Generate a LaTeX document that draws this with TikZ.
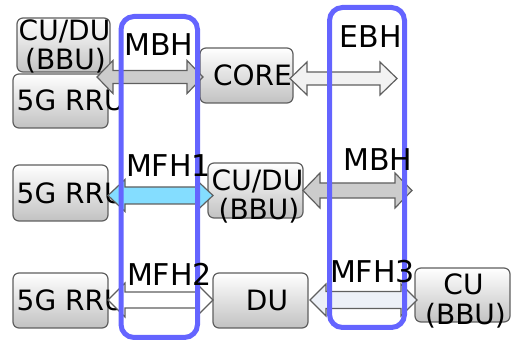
\documentclass[tikz,border=0pt]{standalone}
\usepackage{fontspec}
\setmainfont{DejaVu Sans}

\definecolor{edgegray}{HTML}{5F5F5F}
\definecolor{arrowgray}{HTML}{CCCCCC}
\definecolor{arrowlight}{HTML}{F2F2F2}
\definecolor{arrowcyan}{HTML}{84DDFF}
\definecolor{arrowpale}{HTML}{ECF0F7}
\definecolor{framblue}{RGB}{100,100,255}

% double-headed block arrow: style, left tip x, right tip x, centre y,
% half shaft width, half head width, head length
\newcommand\dblarrow[7]{%
  \draw[#1] (#2,#4) -- (#2+#7,#4-#6) -- (#2+#7,#4-#5) -- (#3-#7,#4-#5)
    -- (#3-#7,#4-#6) -- (#3,#4) -- (#3-#7,#4+#6) -- (#3-#7,#4+#5)
    -- (#2+#7,#4+#5) -- (#2+#7,#4+#6) -- cycle;}

\begin{document}
\begin{tikzpicture}[x=1pt,y=-1pt,
  unitbox/.style={draw=edgegray, line width=1.2pt, rounded corners=6pt,
    top color=white, bottom color=black!24, inner sep=0pt},
  unittext/.style={inner sep=0pt, text height=20.4pt, text depth=0pt,
    font=\fontsize{28pt}{30pt}\selectfont},
  linklabel/.style={inner sep=0pt, text height=21.9pt, text depth=0pt,
    font=\fontsize{30pt}{32pt}\selectfont},
  link/.style={draw=edgegray, line width=1.2pt, line join=miter},
  segment/.style={draw=framblue, line width=5pt, rounded corners=13pt}]

\useasboundingbox (0,0) rectangle (520,347);

% network units
\node[unitbox, minimum width=93pt, minimum height=54pt] (bbuA) at (63.5,45) {};
\node[unitbox, minimum width=95pt, minimum height=54pt] (rruA) at (60.5,101) {};
\node[unitbox, minimum width=93pt, minimum height=55pt] (core) at (246.5,75.5) {};
\node[unitbox, minimum width=95pt, minimum height=56pt] (rruB) at (60.5,193) {};
\node[unitbox, minimum width=95pt, minimum height=55pt] (bbuB) at (255.5,190.5) {};
\node[unitbox, minimum width=95pt, minimum height=55pt] (rruC) at (60.5,300.5) {};
\node[unitbox, minimum width=95pt, minimum height=55pt] (du) at (260.5,300.5) {};
\node[unitbox, minimum width=95pt, minimum height=54pt] (cu) at (462.5,295) {};

% unit names
\node[unittext] (bbuA-1) at (64.5,30) {CU/DU};
\node[unittext] (bbuA-2) at (65.5,59) {(BBU)};
\node[unittext, anchor=west] (rruA-t) at (16.5,100) {5G RRU};
\node[unittext] (core-t) at (252.5,75) {CORE};
\node[unittext, anchor=west] (rruB-t) at (16.5,193) {5G RRU};
\node[unittext] (bbuB-1) at (257.5,180.5) {CU/DU};
\node[unittext] (bbuB-2) at (259,209.5) {(BBU)};
\node[unittext, anchor=west] (rruC-t) at (16.5,300) {5G RRU};
\node[unittext] (du-t) at (267,300) {DU};
\node[unittext] (cu-1) at (463.5,284) {CU};
\node[unittext] (cu-2) at (465.5,314) {(BBU)};

% transport links
\dblarrow{link, fill=arrowgray}{97}{203}{77}{6.5}{16.5}{16}
\dblarrow{link, fill=arrowlight}{290}{397}{78.5}{6.5}{16.5}{17}
\dblarrow{link, fill=arrowcyan}{108}{213}{195.5}{8.5}{16}{17}
\dblarrow{link, fill=arrowgray}{303}{412}{190.5}{7.5}{17.5}{17}
\dblarrow{link, fill=white}{108}{213}{300}{8}{17}{17}
\dblarrow{link, fill=arrowpale}{310}{417}{300}{8.5}{16}{16}

% haul segments
\draw[segment] (121,16.5) rectangle (197.5,337.5);
\draw[segment] (329.5,7.5) rectangle (404.5,327.5);

% link labels
\node[linklabel] (lab-mbhA) at (159,45) {MBH};
\node[linklabel] (lab-ebh) at (371,37) {EBH};
\node[linklabel] (lab-mfh1) at (168.5,166) {MFH1};
\node[linklabel] (lab-mbhB) at (378,160) {MBH};
\node[linklabel] (lab-mfh2) at (169.5,275) {MFH2};
\node[linklabel] (lab-mfh3) at (372.5,271.5) {MFH3};

\end{tikzpicture}
\end{document}
